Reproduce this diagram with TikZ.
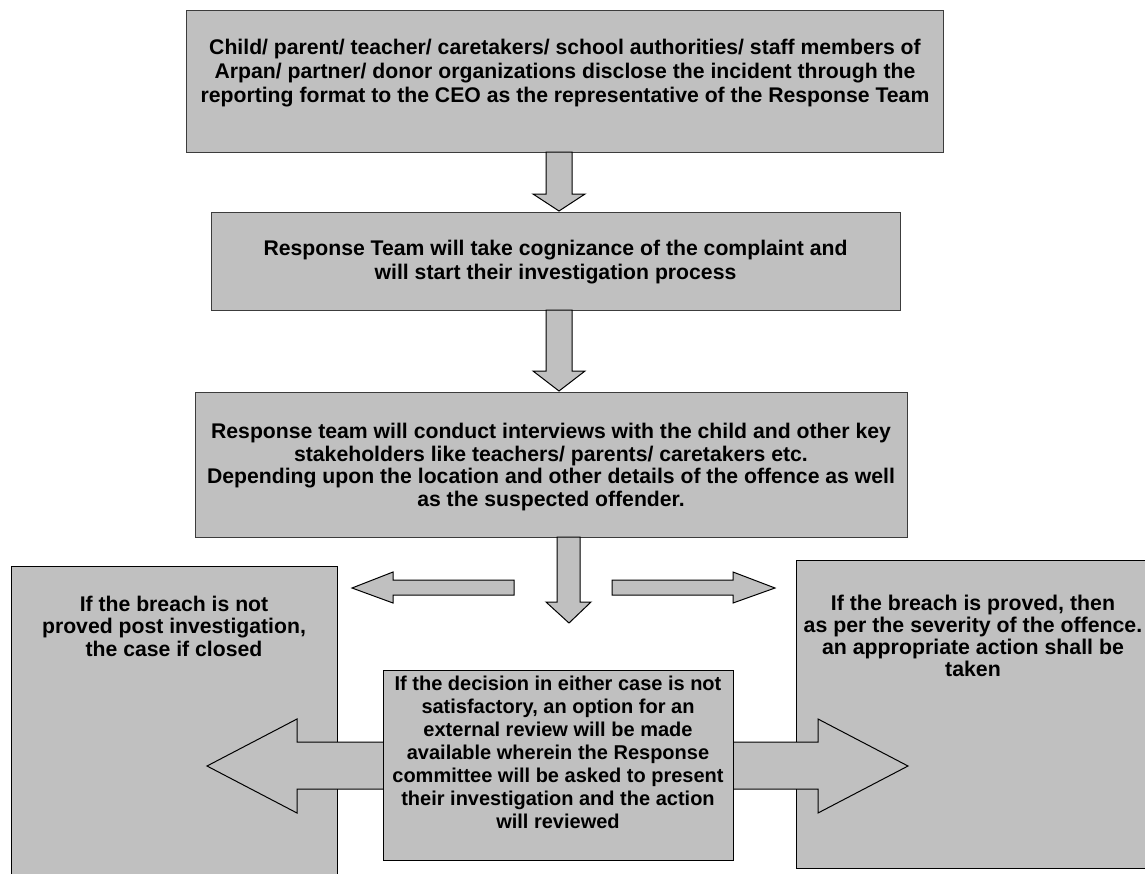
\documentclass[tikz,border=0pt]{standalone}
\usepackage{fontspec}
\setmainfont{Liberation Sans}
\usetikzlibrary{calc}
\definecolor{boxfill}{RGB}{192,192,192}
\definecolor{boxline}{RGB}{60,60,60}
\begin{document}
\begin{tikzpicture}[x=1pt,y=-1pt,
  box/.style={draw=boxline, line width=1.4pt, fill=boxfill, inner sep=0pt, anchor=north west},
  sidebox/.style={draw=black, line width=1pt, fill=boxfill, inner sep=0pt, anchor=north west},
  txt/.style={font=\bfseries\fontsize{21.2}{24.3}\selectfont, align=center, inner sep=0pt},
  ctxt/.style={font=\bfseries\fontsize{20}{23}\selectfont, align=center, inner sep=0pt},
  blk/.style={draw=black, line width=1pt, fill=boxfill, line join=miter}]
\useasboundingbox (0,0) rectangle (1145,873);
\clip (0,0) rectangle (1145,873);
% top boxes
\node[box, minimum width=757pt, minimum height=142pt] (b1) at (186,10) {};
\node[txt] (t1) at (565,73) {Child/ parent/ teacher/ caretakers/ school authorities/ staff members of\\Arpan/ partner/ donor organizations disclose the incident through the\\reporting format to the CEO as the representative of the Response Team};
\path[blk] (546,152) -- (546,194) -- (533,194) -- (559,211) -- (585,194) -- (572,194) -- (572,152) -- cycle;
\node[box, minimum width=689pt, minimum height=98pt] (b2) at (211,212) {};
\node[txt] (t2) at (555.5,262) {Response Team will take cognizance of the complaint and\\will start their investigation process};
\path[blk] (546,310) -- (546,371) -- (533,371) -- (559,391) -- (585,371) -- (572,371) -- (572,310) -- cycle;
\node[box, minimum width=712pt, minimum height=145pt] (b3) at (195,392) {};
\node[txt, font=\bfseries\fontsize{21.2}{22.5}\selectfont] (t3) at (551,467) {Response team will conduct interviews with the child and other key\\stakeholders like teachers/ parents/ caretakers etc.\\Depending upon the location and other details of the offence as well\\as the suspected offender.};
% three small arrows
\path[blk] (557,537) -- (557,602) -- (546,602) -- (569,623) -- (591,602) -- (580,602) -- (580,537) -- cycle;
\path[blk] (514,580) -- (393,580) -- (393,572) -- (352,588) -- (393,603) -- (393,595) -- (514,595) -- cycle;
\path[blk] (612,580) -- (733,580) -- (733,572) -- (775,588) -- (733,603) -- (733,595) -- (612,595) -- cycle;
% side boxes
\node[sidebox, minimum width=326pt, minimum height=330pt] (bl) at (11,566) {};
\node[txt, font=\bfseries\fontsize{21.2}{22.5}\selectfont] (tl) at (174,626) {If the breach is not\\proved post investigation,\\the case if closed};
\node[sidebox, minimum width=356pt, minimum height=308pt] (br) at (796,560) {};
\node[txt, font=\bfseries\fontsize{21.3}{21.8}\selectfont] (tr) at (973,636) {If the breach is proved, then\\as per the severity of the offence.\\an appropriate action shall be\\taken};
% double arrow
\path[blk] (207,766) -- (297,719) -- (297,742) -- (818,742) -- (818,719) -- (908,766) -- (818,813) -- (818,789) -- (297,789) -- (297,813) -- cycle;
% centre box
\node[box, draw=black, minimum width=350pt, minimum height=190pt] (bc) at (383,670) {};
\node[ctxt] (tc) at (558,752) {If the decision in either case is not\\satisfactory, an option for an\\external review will be made\\available wherein the Response\\committee will be asked to present\\their investigation and the action\\will reviewed};
\end{tikzpicture}
\end{document}
